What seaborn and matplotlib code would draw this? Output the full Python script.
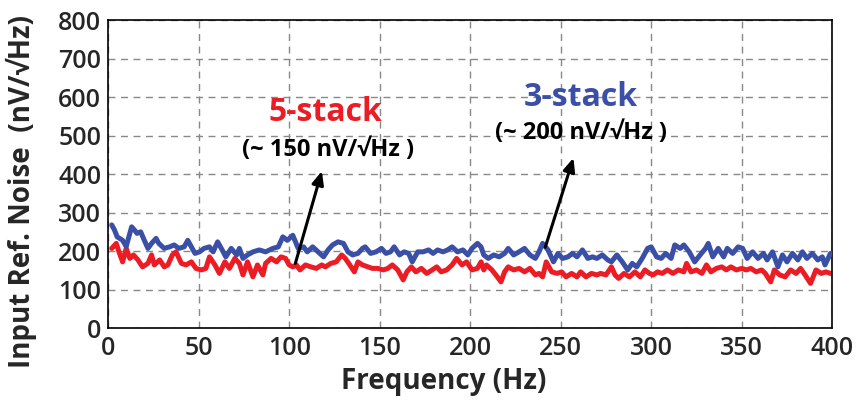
import matplotlib
matplotlib.use("Agg")
import matplotlib.pyplot as plt
import seaborn as sns
import pandas as pd

# ---- data ----
freq_3stack = [2, 3.5, 5, 8, 10, 13, 14.5, 16, 18, 20, 22, 24, 26.5, 28, 31, 34, 36.5, 39, 42, 44, 46, 48,
               50.5, 53, 56, 58, 60.5, 63, 65, 68, 71, 72.5, 74.5, 77, 80, 83.5, 87, 91, 94, 96.5, 99,
               102, 105, 108, 110, 113, 116, 119, 121.5, 124, 127, 130, 132.5, 135, 138, 140.5, 142, 145,
               148, 151, 153.5, 156, 158, 161, 163.5, 166, 168, 171, 174, 177, 179.5, 182, 185, 187.5, 190,
               193, 196, 198.7, 201, 204, 206, 207.5, 210, 213, 216, 219, 221, 224, 227, 230, 233, 236, 238,
               240, 243, 246, 248.5, 251, 254, 256.5, 259, 262, 265, 267.5, 270, 273, 276, 278, 281, 284,
               287, 289.5, 292, 295, 298, 300, 303, 305.5, 308, 311, 313, 316, 318, 321, 324, 327, 330,
               331.5, 334, 337, 340, 342, 345, 348, 350.5, 353, 356, 359, 362, 364, 367, 370, 372.5, 375,
               378, 381, 383.5, 386, 389, 392, 394.5, 396, 399]
noise_3stack = [268, 255, 237, 228, 212, 263, 255, 246, 250, 228, 207, 220, 233, 220, 207, 211, 216, 207,
                211, 228, 211, 194, 198, 207, 211, 198, 224, 203, 185, 207, 190, 207, 181, 190, 198, 203,
                198, 207, 211, 237, 228,
                241, 207, 211, 198, 211, 198, 185, 203, 216, 224, 220, 198, 190, 194, 207, 211, 194,
                198, 207, 194, 198, 211, 190, 198, 194, 172, 198, 198, 203, 194, 203, 198, 203, 211,
                198, 203, 190, 207, 220, 211, 190, 181, 190, 185, 194, 207, 190, 198, 207, 190, 181, 198,
                220, 203, 172, 194, 181, 185, 194, 185, 203, 181, 185, 181, 190, 177, 172, 190, 172,
                151, 168, 159, 181, 207, 211, 185, 181, 194, 181, 216, 207, 216, 198, 172, 190, 207,
                220, 185, 207, 185, 207, 194, 211, 207, 181, 198, 181, 194, 177, 198, 159, 190, 172,
                194, 177, 198, 181, 194, 177, 185, 164, 194]

freq_5stack = [2, 4.5, 6, 8, 10, 12, 14, 16.5, 19, 22, 24, 25.5, 28.5, 31, 33, 35.5, 37.5, 40.5, 43, 46,
               48.5, 51.5, 54, 56, 59, 61.5, 64.5, 67, 70, 72.5, 74.5, 77, 80, 82.5, 85.5, 87, 90, 93,
               95.5, 98, 100, 102, 104, 106, 109, 112, 115, 118, 120, 123, 126, 129, 131, 133.5, 136,
               138, 140.5, 143.5, 146, 149, 152, 154.5, 157, 160, 163, 165, 167.5, 170, 173, 176, 179,
               181.5, 184, 187, 190, 192.5, 195.5, 198, 201, 204, 206, 207.5, 209, 212, 215, 217, 219,
               221, 224, 227, 230, 233, 236, 238, 240, 242, 245, 248, 250.5, 253, 256, 259, 261, 264,
               267, 270, 272, 275, 278, 280, 282, 285, 288, 291, 294, 296.5, 299, 301, 303.5, 306, 309,
               312, 315, 318, 319.5, 322, 325, 328, 330.5, 333, 336, 339, 341.5, 344, 347, 350, 352.5,
               355, 358, 361, 363, 366, 368, 371, 374, 377, 380, 382.5, 385, 388, 391, 394, 396.5, 399]
noise_5stack = [207, 220, 198, 172, 207, 181, 190, 177, 159, 168, 190, 164, 177, 159, 164, 190, 198, 168,
                164, 172, 155, 151, 155, 185, 164, 142, 172, 155, 181, 168, 138, 172, 133, 164, 138, 168,
                181, 172, 185, 181, 164, 159, 164, 151, 164, 159, 155, 164, 159, 168, 172, 190, 181, 164,
                146, 172, 164, 159, 155, 155, 151, 155, 164, 151, 125, 146, 159, 146, 155, 142, 151,
                159, 146, 151, 164, 181, 164, 172, 151, 155, 172, 151, 164, 151, 133, 120, 146,
                159, 151, 155, 146, 155, 138, 142, 133, 172, 146, 142, 146, 133, 142, 133, 146, 133,
                142, 138, 142, 138, 159, 138, 129, 142, 133, 146, 133, 151, 142, 138, 146, 142, 151,
                142, 151, 146, 168, 146, 151, 142, 164, 146, 155, 159, 151, 159, 151, 155, 151,
                155, 146, 151, 142, 120, 151, 138, 133, 151, 142, 155, 138, 116, 151, 142, 146, 142]

x_ticks = [0, 50, 100, 150, 200, 250, 300, 350, 400]
y_ticks = [0, 100, 200, 300, 400, 500, 600, 700, 800]

blue = "#3a4fa6"
red = "#ec1c24"

sns.set_style("white")
plt.rcParams['font.family'] = ['Open Sans', 'DejaVu Sans']

fig = plt.figure(figsize=(8.58, 4.04), dpi=100)
ax = fig.add_axes([0.126, 0.188, 0.844, 0.762])

df3 = pd.DataFrame({"f": freq_3stack, "n": noise_3stack})
df5 = pd.DataFrame({"f": freq_5stack, "n": noise_5stack})
sns.lineplot(data=df3, x="f", y="n", ax=ax, color=blue, linewidth=3.6, zorder=3)
sns.lineplot(data=df5, x="f", y="n", ax=ax, color=red, linewidth=3.6, zorder=2)

ax.set_xlim(0, 400)
ax.set_ylim(0, 800)
ax.set_xticks(x_ticks)
ax.set_yticks(y_ticks)
ax.set_xticklabels([str(t) for t in x_ticks], fontsize=18, fontweight='semibold')
ax.set_yticklabels([str(t) for t in y_ticks], fontsize=18, fontweight='semibold')
ax.tick_params(axis='x', length=0, pad=6)
ax.tick_params(axis='y', length=0, pad=5)
ax.grid(True, color="#888888", linestyle=(0, (5, 4)), linewidth=1.0)
for s in ax.spines.values():
    s.set_color("black")
    s.set_linewidth(1.2)

ax.set_xlabel("Frequency (Hz)", fontsize=20, fontweight='bold', va='center')
ax.xaxis.set_label_coords(0.463, -0.175)
ax.set_ylabel("Input Ref. Noise  (nV/\u221aHz)", fontsize=20, fontweight='bold', va='center')
ax.yaxis.set_label_coords(-0.12, 0.445)

ax.text(120, 561, "5-stack", color=red, fontsize=23, fontweight='bold', ha='center', va='center')
ax.text(261, 600, "3-stack", color=blue, fontsize=23, fontweight='bold', ha='center', va='center')
ax.text(121.5, 462, "(~ 150 nV/\u221aHz )", color="black", fontsize=17, fontweight='bold',
        ha='center', va='center')
ax.text(261, 506, "(~ 200 nV/\u221aHz )", color="black", fontsize=17, fontweight='bold',
        ha='center', va='center')

arrow = dict(arrowstyle="-|>,head_length=0.8,head_width=0.35", color="black", lw=2.2)
ax.annotate("", xy=(118.5, 415), xytext=(103, 161), arrowprops=arrow, zorder=5)
ax.annotate("", xy=(257.5, 449), xytext=(241, 203), arrowprops=arrow, zorder=5)

fig.savefig("out.png", dpi=100)
